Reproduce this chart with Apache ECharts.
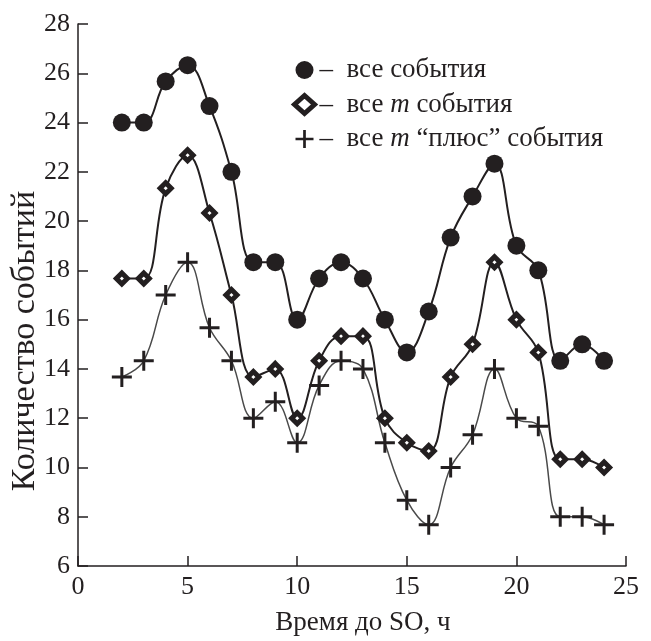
<!DOCTYPE html>
<html>
<head>
<meta charset="utf-8">
<script src="https://cdn.jsdelivr.net/npm/echarts@6/dist/echarts.min.js"></script>
<style>
html,body{margin:0;padding:0;background:#fff;}
#chart{width:651px;height:641px;}
</style>
</head>
<body>
<div id="chart"></div>
<script>
var hours = [2,3,4,5,6,7,8,9,10,11,12,13,14,15,16,17,18,19,20,21,22,23,24];
var allEvents = [24.0,24.0,25.67,26.33,24.67,22.0,18.33,18.33,16.0,17.67,18.33,17.67,16.0,14.67,16.33,19.33,21.0,22.33,19.0,18.0,14.33,15.0,14.33];
var mEvents = [17.67,17.67,21.33,22.67,20.33,17.0,13.67,14.0,12.0,14.33,15.33,15.33,12.0,11.0,10.67,13.67,15.0,18.33,16.0,14.67,10.33,10.33,10.0];
var mPlusEvents = [13.67,14.33,17.0,18.33,15.67,14.33,12.0,12.67,11.0,13.33,14.33,14.0,11.0,8.67,7.67,10.0,11.33,14.0,12.0,11.67,8.0,8.0,7.67];
var seriesNames = ['все события', 'все m события', 'все m “плюс” события'];
var xTitle = 'Время до SO, ч';
var yTitle = 'Количество событий';

function pairs(vals){ return hours.map(function(h,i){ return [h, vals[i]]; }); }

var ink = '#231f20';
var font = 'Liberation Serif';
var plusPath = 'path://M8.5,0h3v8.5h8.5v3h-8.5v8.5h-3v-8.5h-8.5v-3h8.5z';

var chart = echarts.init(document.getElementById('chart'));
chart.setOption({
  animation: false,
  backgroundColor: '#fff',
  grid: {left: 78, right: 25, top: 24, bottom: 69},
  xAxis: {
    type: 'value', min: 0, max: 25, interval: 5,
    name: xTitle, nameLocation: 'middle', nameGap: 43,
    nameTextStyle: {fontFamily: font, fontSize: 27, color: ink, padding: [0, 0, 0, 22]},
    axisLine: {show: true, lineStyle: {color: ink, width: 1.5}},
    axisTick: {show: true, inside: true, length: 10, lineStyle: {color: ink, width: 1.5}},
    axisLabel: {fontFamily: font, fontSize: 26, color: ink, margin: 8},
    splitLine: {show: false}
  },
  yAxis: {
    type: 'value', min: 6, max: 28, interval: 2,
    axisLine: {show: true, lineStyle: {color: ink, width: 1.5}},
    axisTick: {show: true, inside: true, length: 10, lineStyle: {color: ink, width: 1.5}},
    axisLabel: {fontFamily: font, fontSize: 26, color: ink, margin: 8},
    splitLine: {show: false}
  },
  graphic: [{
    type: 'text', x: 25, y: 341, rotation: Math.PI / 2,
    style: {text: yTitle, fontFamily: font, fontSize: 34, fill: ink, textAlign: 'center', textVerticalAlign: 'middle'}
  }],
  legend: {
    orient: 'vertical', left: 292, top: 56, padding: 0,
    itemWidth: 20, itemHeight: 18, itemGap: 6.5,
    textStyle: {
      fontFamily: font, fontSize: 27, color: ink, lineHeight: 28,
      rich: {
        a: {fontFamily: font, fontSize: 27, color: ink, lineHeight: 28},
        i: {fontFamily: font, fontSize: 27, color: ink, fontStyle: 'italic', lineHeight: 28}
      }
    },
    formatter: function(name){
      var parts = name.split(' m ');
      if (parts.length === 2) return '{a|–\u2002' + parts[0] + ' }{i|m}{a| ' + parts[1] + '}';
      return '{a|–\u2002' + name + '}';
    },
    data: [
      {name: seriesNames[0], icon: 'circle'},
      {name: seriesNames[1], icon: 'diamond', itemStyle: {borderWidth: 5, borderColor: ink, color: '#fff'}},
      {name: seriesNames[2], icon: plusPath}
    ]
  },
  series: [
    {
      name: seriesNames[0], type: 'line', smooth: 0.4, data: pairs(allEvents),
      symbol: 'circle', symbolSize: 18,
      lineStyle: {color: ink, width: 2},
      itemStyle: {color: ink}
    },
    {
      name: seriesNames[1], type: 'line', smooth: 0.4, data: pairs(mEvents),
      symbol: 'diamond', symbolSize: 11,
      lineStyle: {color: ink, width: 2},
      itemStyle: {color: '#fff', borderColor: ink, borderWidth: 5, borderJoin: 'miter', borderMiterLimit: 10}
    },
    {
      name: seriesNames[2], type: 'line', smooth: 0.4, data: pairs(mPlusEvents),
      symbol: plusPath, symbolSize: 20,
      lineStyle: {color: '#4a4a4a', width: 1.5},
      itemStyle: {color: ink}
    }
  ]
});
</script>
</body>
</html>
